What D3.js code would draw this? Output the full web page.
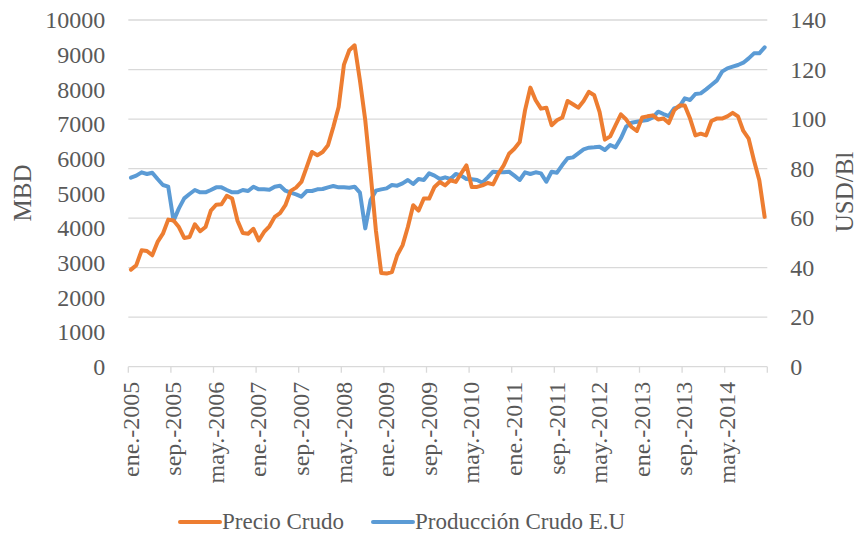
<!DOCTYPE html>
<html>
<head>
<meta charset="utf-8">
<script src="https://cdn.jsdelivr.net/npm/d3@7"></script>
<style>
  body { margin: 0; background: #fff; }
  svg text { font-family: Garamond, 'Liberation Serif', serif; fill: #595959; }
</style>
</head>
<body>
<div id="root"></div>
<script>
const monthNames = ['ene.', 'feb.', 'mar.', 'abr.', 'may.', 'jun.', 'jul.', 'ago.', 'sep.', 'oct.', 'nov.', 'dic.'];
const years = [2005, 2006, 2007, 2008, 2009, 2010, 2011, 2012, 2013, 2014];

// USD/Bl (right axis)
const precioCrudo = [
  39.2, 41.0, 47.0, 46.7, 45.0, 50.4, 53.7, 59.4, 59.0, 56.4, 52.0, 52.4,
  57.5, 54.7, 56.4, 63.0, 65.4, 65.6, 69.0, 67.9, 59.0, 54.0, 53.7, 55.7,
  51.0, 54.4, 56.7, 60.5, 62.0, 65.2, 71.0, 72.3, 74.6, 80.6, 86.7, 85.4,
  86.7, 89.4, 96.8, 104.9, 122.0, 127.8, 129.8, 115.6, 99.5, 78.0, 55.0, 37.8,
  37.6, 38.2, 45.0, 49.0, 56.4, 65.2, 63.0, 67.9, 67.9, 72.6, 74.6, 73.2,
  75.3, 74.6, 78.0, 81.3, 72.6, 72.6, 73.2, 74.2, 73.6, 78.0, 81.3, 86.0,
  88.0, 90.7, 103.5, 112.7, 107.6, 104.2, 104.6, 97.5, 99.5, 100.6, 107.3, 106.0,
  104.6, 107.3, 111.0, 109.6, 102.9, 91.7, 93.0, 97.5, 101.9, 99.8, 96.8, 95.2,
  100.6, 101.1, 101.5, 99.8, 100.2, 98.4, 103.5, 105.5, 105.5, 100.2, 93.4, 94.1,
  93.4, 99.2, 100.2, 100.2, 101.1, 102.5, 101.1, 95.2, 92.1, 83.3, 75.3, 60.5
];

// MBD (left axis)
const produccionCrudo = [
  5452, 5510, 5606, 5558, 5596, 5413, 5240, 5192, 4211, 4567, 4856, 4981,
  5096, 5029, 5029, 5096, 5173, 5173, 5096, 5029, 5029, 5096, 5067, 5192,
  5115, 5115, 5106, 5192, 5221, 5077, 5019, 4971, 4904, 5067, 5067, 5115,
  5125, 5173, 5211, 5173, 5173, 5163, 5192, 5019, 3990, 4808, 5077, 5115,
  5144, 5240, 5221, 5288, 5385, 5269, 5413, 5385, 5577, 5510, 5413, 5461,
  5413, 5558, 5510, 5413, 5404, 5385, 5308, 5461, 5625, 5606, 5606, 5625,
  5510, 5385, 5606, 5558, 5606, 5577, 5336, 5625, 5596, 5817, 6010, 6038,
  6154, 6269, 6317, 6327, 6346, 6250, 6394, 6327, 6587, 6923, 7038, 7067,
  7096, 7115, 7192, 7356, 7288, 7231, 7452, 7500, 7740, 7692, 7865, 7884,
  8000, 8125, 8250, 8510, 8606, 8654, 8702, 8769, 8894, 9038, 9038, 9211
];

const leftTicks = [0, 1000, 2000, 3000, 4000, 5000, 6000, 7000, 8000, 9000, 10000];
const rightTicks = [0, 20, 40, 60, 80, 100, 120, 140];
const seriesNames = ['Precio Crudo', 'Producción Crudo E.U'];
const seriesColors = ['#ED7D31', '#5B9BD5'];

const categories = years.flatMap(y => monthNames.map(m => `${m}-${y}`));

const width = 859;
const height = 534;
const plot = { left: 128.3, right: 767.3, top: 20, bottom: 366.7 };

const svg = d3.select('#root').append('svg')
  .attr('width', width)
  .attr('height', height);

const x = d3.scaleBand()
  .domain(categories)
  .range([plot.left, plot.right]);

const yLeft = d3.scaleLinear()
  .domain([0, 10000])
  .range([plot.bottom, plot.top]);

const yRight = d3.scaleLinear()
  .domain([0, 140])
  .range([plot.bottom, plot.top]);

// gridlines (follow the secondary axis)
svg.append('g')
  .selectAll('line')
  .data(rightTicks)
  .enter()
  .append('line')
  .attr('x1', plot.left)
  .attr('x2', plot.right)
  .attr('y1', d => yRight(d))
  .attr('y2', d => yRight(d))
  .attr('stroke', '#d9d9d9')
  .attr('stroke-width', 1.3);

// category tick marks at band boundaries
const tickIdx = d3.range(0, categories.length + 1, 8);
svg.append('g')
  .selectAll('line')
  .data(tickIdx)
  .enter()
  .append('line')
  .attr('x1', d => d < categories.length ? x(categories[d]) : plot.right)
  .attr('x2', d => d < categories.length ? x(categories[d]) : plot.right)
  .attr('y1', plot.bottom)
  .attr('y2', plot.bottom + 6)
  .attr('stroke', '#d9d9d9')
  .attr('stroke-width', 1.3);

const xAxis = d3.axisBottom(x)
  .tickValues(categories.filter((d, i) => i % 8 === 0))
  .tickSize(0)
  .tickSizeOuter(0);

svg.append('g')
  .attr('transform', `translate(0, ${plot.bottom})`)
  .call(xAxis)
  .call(g => g.select('.domain').remove())
  .call(g => g.selectAll('text')
    .attr('font-size', 24)
    .attr('font-family', null)
    .attr('transform', 'rotate(-90)')
    .attr('text-anchor', 'end')
    .attr('x', -15)
    .attr('y', 0)
    .attr('dy', '0.32em'));

const leftAxis = d3.axisLeft(yLeft)
  .tickValues(leftTicks)
  .tickFormat(d3.format('d'))
  .tickSize(0)
  .tickPadding(23);

svg.append('g')
  .attr('transform', `translate(${plot.left}, 0)`)
  .call(leftAxis)
  .call(g => g.select('.domain').remove())
  .call(g => g.selectAll('text').attr('font-size', 24).attr('font-family', null));

const rightAxis = d3.axisRight(yRight)
  .tickValues(rightTicks)
  .tickFormat(d3.format('d'))
  .tickSize(0)
  .tickPadding(23);

svg.append('g')
  .attr('transform', `translate(${plot.right}, 0)`)
  .call(rightAxis)
  .call(g => g.select('.domain').remove())
  .call(g => g.selectAll('text').attr('font-size', 24).attr('font-family', null));

// axis titles
svg.append('text')
  .attr('transform', `translate(31, 193) rotate(-90)`)
  .attr('text-anchor', 'middle')
  .attr('font-size', 25)
  .text('MBD');

svg.append('text')
  .attr('transform', `translate(853, 192) rotate(-90)`)
  .attr('text-anchor', 'middle')
  .attr('font-size', 25)
  .text('USD/Bl');

const cx = d => x(d) + x.bandwidth() / 2;

const lineLeft = d3.line()
  .x((d, i) => cx(categories[i]))
  .y(d => yLeft(d));

const lineRight = d3.line()
  .x((d, i) => cx(categories[i]))
  .y(d => yRight(d));

svg.append('path')
  .datum(produccionCrudo)
  .attr('d', lineLeft)
  .attr('fill', 'none')
  .attr('stroke', seriesColors[1])
  .attr('stroke-width', 4)
  .attr('stroke-linejoin', 'round')
  .attr('stroke-linecap', 'round');

svg.append('path')
  .datum(precioCrudo)
  .attr('d', lineRight)
  .attr('fill', 'none')
  .attr('stroke', seriesColors[0])
  .attr('stroke-width', 4)
  .attr('stroke-linejoin', 'round')
  .attr('stroke-linecap', 'round');

// legend
const legendY = 522;
const legend = svg.append('g')
  .selectAll('g')
  .data(seriesNames)
  .enter()
  .append('g')
  .attr('transform', (d, i) => `translate(${[180, 373][i]}, ${legendY})`);

legend.append('line')
  .attr('x1', 0)
  .attr('x2', 40)
  .attr('stroke', (d, i) => seriesColors[i])
  .attr('stroke-width', 4)
  .attr('stroke-linecap', 'round');

legend.append('text')
  .attr('x', 42)
  .attr('dy', '0.32em')
  .attr('font-size', 23)
  .text(d => d);
</script>
</body>
</html>
